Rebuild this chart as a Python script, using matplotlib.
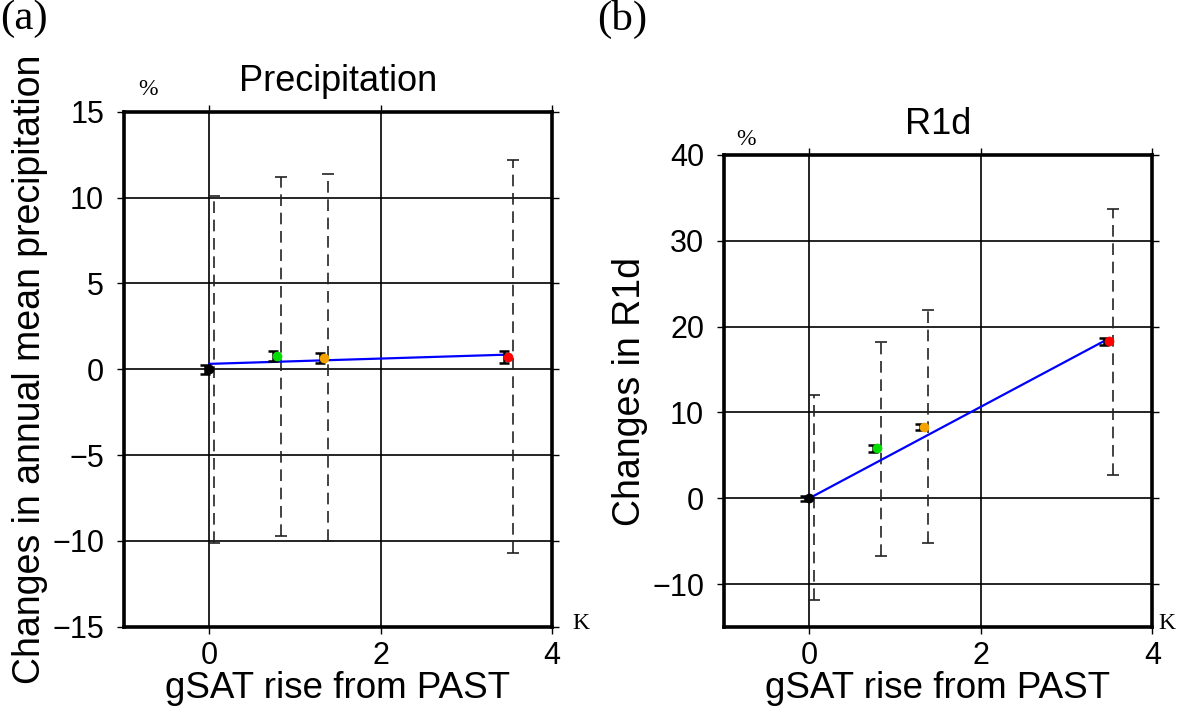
import matplotlib
matplotlib.use("Agg")
import matplotlib.pyplot as plt
import numpy as np

# ---- data ----
gsat = [0.0, 0.79, 1.34, 3.49]
colors = ["black", "#00dd00", "#f5a300", "#ff0000"]

precip_mean = [0.0, 0.76, 0.66, 0.72]
precip_err = [0.27, 0.28, 0.28, 0.33]
precip_lo = [-10.1, -9.7, -10.0, -10.7]
precip_hi = [10.1, 11.2, 11.4, 12.2]
precip_fit = [0.31, 0.85]   # fitted line at x=0 and x=3.49

r1d_mean = [0.0, 5.8, 8.3, 18.3]
r1d_err = [0.3, 0.35, 0.4, 0.4]
r1d_lo = [-11.8, -6.7, -5.2, 2.7]
r1d_hi = [12.0, 18.2, 21.9, 33.7]
r1d_fit = [0.0, 18.6]

sans = ["Liberation Sans", "DejaVu Sans"]
serif = ["Liberation Serif", "DejaVu Serif"]

fig = plt.figure(figsize=(11.81, 7.18), dpi=100)

def panel(rect, mean, err, lo, hi, fit, ylim, yticks, title, ylabel, letter, letter_xy, pct_xy, k_xy):
    ax = fig.add_axes(rect)
    ax.set_xlim(-1, 4)
    ax.set_ylim(*ylim)
    ax.set_xticks([0, 2, 4])
    ax.set_yticks(yticks)
    ax.grid(True, color="black", linewidth=1.2)
    ax.set_axisbelow(True)
    for s in ax.spines.values():
        s.set_linewidth(2.6)
    ax.tick_params(direction="out", length=5, width=1.0, top=True, right=True,
                   labelsize=22)
    ax.tick_params(axis="y", pad=9)
    ax.tick_params(axis="x", pad=5)
    for lab in ax.get_xticklabels() + ax.get_yticklabels():
        lab.set_family(sans)
    # range bars (dashed)
    for i in range(len(gsat)):
        x = gsat[i] + 0.05
        mid = (lo[i] + hi[i]) / 2
        eb = ax.errorbar([x], [mid], yerr=[[mid - lo[i]], [hi[i] - mid]], fmt="none",
                         ecolor="#222222", elinewidth=1.2, capsize=4.5, capthick=1.2, zorder=3)
        eb[2][0].set_linestyle((0, (7, 4)))
    # fit line
    ax.plot([gsat[0], gsat[-1]], fit, color="#0000ff", linewidth=1.6, zorder=4)
    # small error bars + markers
    for i in range(len(gsat)):
        ax.errorbar([gsat[i] - 0.05], [mean[i]], yerr=[err[i]], fmt="none",
                    ecolor="black", elinewidth=1.8, capsize=3.5, capthick=1.8, zorder=5)
        ax.plot([gsat[i]], [mean[i]], "o", color=colors[i], markersize=7,
                markeredgewidth=0, zorder=6)
    ax.set_title(title, fontsize=26, family=sans, pad=15)
    ax.set_xlabel("gSAT rise from PAST", fontsize=26.5, family=sans, labelpad=0)
    ax.set_ylabel(ylabel, fontsize=27, family=sans, labelpad=3)
    fig.text(letter_xy[0], letter_xy[1], letter, fontsize=31, family=serif,
             ha="left", va="top")
    fig.text(pct_xy[0], pct_xy[1], "%", fontsize=17, family=serif, ha="left", va="bottom")
    fig.text(k_xy[0], k_xy[1], "K", fontsize=17, family=serif, ha="left", va="bottom")
    return ax

W, H = 1181, 718
ax1 = panel([123.6 / W, 1 - 626.7 / H, (552 - 123.6) / W, (626.7 - 111.7) / H],
            precip_mean, precip_err, precip_lo, precip_hi, precip_fit,
            (-15, 15), [-15, -10, -5, 0, 5, 10, 15], "Precipitation",
            "Changes in annual mean precipitation", "(a)",
            (0 / W, 1 - 0 / H), (138 / W, 1 - 100 / H), (572 / W, 1 - 634 / H))
ax2 = panel([723.5 / W, 1 - 627 / H, (1152.3 - 723.5) / W, (627 - 155) / H],
            r1d_mean, r1d_err, r1d_lo, r1d_hi, r1d_fit,
            (-15, 40), [-10, 0, 10, 20, 30, 40], "R1d",
            "Changes in R1d", "(b)",
            (597 / W, 1 - 0 / H), (736 / W, 1 - 150 / H), (1158 / W, 1 - 634 / H))

fig.savefig("out.png", dpi=100)
